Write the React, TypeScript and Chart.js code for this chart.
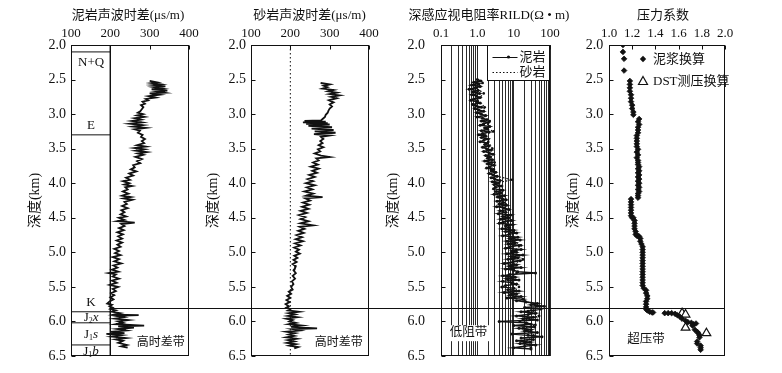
import React, { useEffect, useRef } from 'react';
import { Chart, registerables } from 'chart.js';

Chart.register(...registerables);

const FONT = "'Liberation Serif', 'Noto Sans CJK SC', serif";
const INK = '#111111';
const CANVAS_H = 373;
const PLOT_TOP = 45;
const PLOT_BOTTOM = 356;

// ---------- shared depth axis ----------
const depthTicks = [2.0, 2.5, 3.0, 3.5, 4.0, 4.5, 5.0, 5.5, 6.0, 6.5];
const depthMin = 2.0;
const depthMax = 6.5;
const depthTitle = '深度(km)';
const overpressureTop = 5.8;

// ---------- panel 1: mudstone sonic ----------
const p1Title = '泥岩声波时差(μs/m)';
const dtTicks = [100, 200, 300, 400];
const p1Depth = [
  2.52, 2.54, 2.55, 2.57, 2.58, 2.60, 2.61, 2.63, 2.64, 2.66, 2.67, 2.69, 2.70,
  2.72, 2.74, 2.76, 2.78, 2.80, 2.82, 2.85, 2.87, 2.90, 2.93, 2.96, 2.98,
  3.00, 3.02, 3.04, 3.06, 3.08, 3.10, 3.12, 3.14, 3.16, 3.18, 3.20, 3.22, 3.24,
  3.27, 3.30, 3.33, 3.36, 3.39, 3.42, 3.45, 3.47, 3.49, 3.51, 3.53, 3.55, 3.57, 3.59,
  3.62, 3.65, 3.68, 3.71, 3.74, 3.77, 3.80, 3.83, 3.86, 3.89, 3.92, 3.95, 3.97,
  4.00, 4.02, 4.04, 4.06, 4.09, 4.12, 4.15, 4.18, 4.20,
  4.22, 4.24, 4.27, 4.30, 4.33, 4.36, 4.39, 4.42, 4.45, 4.48,
  4.50, 4.53, 4.55, 4.57, 4.59, 4.62, 4.65, 4.68, 4.71, 4.74, 4.77,
  4.80, 4.83, 4.86, 4.89, 4.92, 4.95, 4.98, 5.01, 5.04,
  5.07, 5.10, 5.13, 5.16, 5.19, 5.22, 5.25, 5.28, 5.30,
  5.32, 5.35, 5.38, 5.41, 5.44, 5.47, 5.50, 5.53, 5.56, 5.59,
  5.62, 5.65, 5.68, 5.71, 5.74, 5.76, 5.78, 5.80, 5.82, 5.84, 5.86,
  5.88, 5.90, 5.91, 5.92, 5.94, 5.96, 5.98, 6.00, 6.02, 6.04, 6.06, 6.07,
  6.09, 6.11, 6.13, 6.15, 6.17, 6.18, 6.20, 6.22, 6.24, 6.26, 6.28, 6.31, 6.34, 6.36, 6.38,
];
const p1Dt = [
  300, 318, 305, 328, 310, 340, 312, 332, 305, 345, 318, 338, 300,
  325, 298, 315, 290, 296, 282, 288, 278, 284, 280, 276, 270,
  283, 268, 286, 262, 278, 255, 280, 250, 282, 258, 290, 262, 275,
  270, 282, 278, 288, 280, 286, 268, 290, 262, 286, 265, 292, 270, 284,
  264, 280, 268, 276, 258, 262, 252, 266, 248, 258, 240, 250, 232,
  248, 236, 255, 238, 244, 232, 246, 230, 252,
  234, 256, 236, 242, 230, 244, 228, 236, 226, 240,
  222, 236, 218, 262, 228, 236, 222, 234, 218, 232, 220,
  230, 216, 230, 218, 226, 210, 222, 212, 226,
  206, 222, 210, 228, 208, 218, 204, 220, 196,
  214, 206, 222, 204, 216, 198, 220, 206, 214, 202,
  210, 200, 208, 198, 192, 204, 198, 206, 200, 214, 204,
  225, 210, 272, 215, 234, 212, 246, 220, 232, 214, 286, 220,
  260, 218, 240, 200, 236, 190, 228, 205, 240, 214, 232, 220, 242, 228, 244,
];
const columnEdge = 200;
const columnLeft = 100;
const formationTops = [2.10, 3.30, 5.86, 6.02, 6.34];
const formationNames = ['N+Q', 'E', 'K', 'J2x', 'J1s', 'J1b'];
const formationLabelDepth = [2.26, 3.16, 5.72, 5.95, 6.19, 6.44];
const formationLabelX = 151;
const p1Note = '高时差带';
const p1NoteAt = [267, 6.31];

// ---------- panel 2: sandstone sonic ----------
const p2Title = '砂岩声波时差(μs/m)';
const p2Depth = [
  2.55, 2.57, 2.59, 2.61, 2.63, 2.65, 2.67, 2.69, 2.71, 2.73, 2.75, 2.77,
  2.80, 2.83, 2.86, 2.89, 2.92, 2.95, 2.98, 3.01, 3.04, 3.07,
  3.09, 3.10, 3.11, 3.12, 3.13, 3.14, 3.15, 3.17, 3.19, 3.21, 3.23, 3.25, 3.27, 3.29, 3.31,
  3.33, 3.36, 3.39, 3.42, 3.45, 3.48, 3.51, 3.54, 3.57, 3.60, 3.62, 3.64,
  3.67, 3.70, 3.73, 3.76, 3.79, 3.82, 3.85, 3.88, 3.91, 3.94, 3.97,
  4.00, 4.03, 4.06, 4.09, 4.12, 4.15, 4.18, 4.20, 4.22, 4.25,
  4.28, 4.31, 4.34, 4.37, 4.40, 4.43, 4.46, 4.49, 4.52, 4.55,
  4.58, 4.61, 4.63, 4.66, 4.69, 4.72, 4.75, 4.78, 4.81, 4.84,
  4.87, 4.90, 4.93, 4.96, 4.99, 5.02, 5.05, 5.08, 5.11, 5.14,
  5.17, 5.20, 5.23, 5.26, 5.30, 5.34, 5.38, 5.42, 5.46, 5.50,
  5.54, 5.57, 5.60, 5.63, 5.66, 5.69, 5.72, 5.75, 5.78, 5.80,
  5.82, 5.84, 5.86, 5.88, 5.90, 5.92, 5.94, 5.96, 5.98, 6.00,
  6.02, 6.04, 6.06, 6.08, 6.10, 6.11, 6.13, 6.15, 6.17, 6.19,
  6.21, 6.23, 6.25, 6.27, 6.29, 6.31, 6.33, 6.35, 6.37, 6.39,
];
const p2Dt = [
  277, 300, 285, 294, 282, 310, 296, 318, 300, 325, 304, 318,
  298, 310, 300, 306, 300, 297, 295, 290, 288, 282,
  278, 236, 290, 232, 295, 240, 300, 246, 306, 254, 310, 262, 315, 260, 300,
  278, 284, 276, 282, 272, 284, 270, 276, 262, 278, 300, 266,
  272, 258, 270, 252, 272, 256, 268, 248, 262, 244, 258,
  240, 262, 242, 256, 236, 258, 240, 282, 238, 250,
  232, 248, 230, 246, 226, 242, 222, 238, 226, 246,
  226, 258, 224, 236, 220, 234, 216, 230, 214, 232,
  212, 226, 210, 222, 214, 224, 210, 218, 208, 216,
  206, 214, 212, 208, 214, 206, 212, 204, 208, 202,
  206, 196, 202, 192, 200, 190, 198, 188, 196, 190,
  200, 194, 222, 196, 212, 194, 218, 190, 206, 198,
  214, 196, 230, 202, 268, 206, 224, 190, 212, 196,
  210, 190, 216, 194, 210, 192, 214, 198, 220, 210,
];
const p2RefDt = 200;
const p2Note = '高时差带';
const p2NoteAt = [262, 6.31];

// ---------- panel 3: deep induction resistivity ----------
const p3Title = '深感应视电阻率RILD(Ω • m)';
const rildTicks = [0.1, 1, 10, 100];
const rildTickLabels = ['0.1', '1.0', '10', '100'];
const rildGrid = [
  0.1, 0.2, 0.3, 0.4, 0.5, 0.6, 0.7, 0.8, 0.9,
  1, 2, 3, 4, 5, 6, 7, 8, 9,
  10, 20, 30, 40, 50, 60, 70, 80, 90, 100,
];
const p3MudLabel = '泥岩';
const p3SandLabel = '砂岩';
const p3MudDepth = [
  2.50, 2.52, 2.54, 2.56, 2.58, 2.60, 2.62, 2.64, 2.66, 2.68,
  2.70, 2.72, 2.74, 2.76, 2.78, 2.80, 2.82, 2.84, 2.86, 2.88,
  2.90, 2.92, 2.94, 2.96, 2.98, 3.00, 3.02, 3.04, 3.06, 3.08,
  3.10, 3.12, 3.14, 3.16, 3.18, 3.20, 3.22, 3.24, 3.26, 3.28,
  3.30, 3.32, 3.34, 3.36, 3.38, 3.40, 3.42, 3.44, 3.46, 3.48,
  3.50, 3.52, 3.54, 3.56, 3.58, 3.60, 3.62, 3.64, 3.66, 3.68,
  3.70, 3.72, 3.74, 3.76, 3.78, 3.80, 3.82, 3.84, 3.86, 3.88,
  3.90, 3.92, 3.94, 3.96, 3.98, 4.00, 4.02, 4.04, 4.06, 4.08,
  4.10, 4.12, 4.14, 4.16, 4.18, 4.20, 4.22, 4.24, 4.26, 4.28,
  4.30, 4.32, 4.34, 4.36, 4.38, 4.40, 4.42, 4.44, 4.46, 4.48,
  4.50, 4.52, 4.54, 4.56, 4.58, 4.60, 4.62, 4.64, 4.66, 4.68,
  4.70, 4.72, 4.74, 4.76, 4.78, 4.80, 4.82, 4.84, 4.86, 4.88,
  4.90, 4.92, 4.94, 4.96, 4.98, 5.00, 5.02, 5.04, 5.06, 5.08,
  5.10, 5.12, 5.14, 5.16, 5.18, 5.20, 5.22, 5.24, 5.26, 5.28,
  5.30, 5.32, 5.34, 5.36, 5.38, 5.40, 5.42, 5.44, 5.46, 5.48,
  5.50, 5.52, 5.54, 5.56, 5.58, 5.60, 5.62, 5.64, 5.66, 5.68,
  5.70, 5.72, 5.74, 5.76, 5.78, 5.80, 5.82, 5.84, 5.86, 5.88,
  5.90, 5.92, 5.94, 5.96, 5.98, 6.00, 6.02, 6.04, 6.06, 6.08,
  6.10, 6.12, 6.14, 6.16, 6.18, 6.20, 6.22, 6.24, 6.26, 6.28,
  6.30, 6.32, 6.34, 6.36, 6.38, 6.40,
];
const p3MudRild = [
  1.0, 1.25, 0.8, 1.1, 0.7, 1.2, 0.9, 0.6, 1.05, 0.75,
  1.15, 0.7, 0.95, 1.2, 0.8, 0.65, 1.0, 1.2, 0.75, 0.9,
  1.3, 0.85, 1.1, 1.5, 0.95, 1.25, 1.7, 1.0, 1.4, 1.8,
  1.3, 2.0, 1.5, 1.2, 2.2, 1.6, 1.9, 1.3, 2.1, 1.4,
  1.1, 1.7, 1.3, 2.0, 1.5, 1.2, 1.9, 1.6, 2.1, 1.4,
  1.8, 2.4, 1.5, 2.1, 2.7, 1.7, 2.3, 1.9, 2.6, 1.6,
  2.5, 1.9, 2.9, 2.2, 1.8, 2.8, 2.4, 3.2, 2.1, 2.7,
  3.5, 2.4, 3.0, 4.2, 2.6, 3.8, 2.9, 4.5, 3.2, 2.8,
  5.0, 3.3, 4.4, 2.9, 5.6, 3.6, 4.8, 6.2, 3.5, 5.2,
  4.0, 6.4, 3.4, 5.5, 7.4, 4.2, 6.0, 3.8, 8.2, 5.0,
  6.8, 4.4, 8.8, 5.2, 4.0, 9.5, 6.0, 7.5, 4.8, 10,
  6.0, 12, 7.5, 5.0, 13, 8.0, 15, 6.5, 11, 7.0,
  14, 8.0, 6.0, 16, 9.0, 12, 6.5, 18, 8.5, 13,
  7.0, 15, 9.5, 5.5, 12, 7.5, 16, 6.0, 10, 13,
  40, 8.0, 5.0, 11, 6.5, 14, 5.0, 9.0, 12, 6.0,
  4.8, 10, 7.0, 14, 5.5, 12, 8.0, 16, 6.5, 18,
  12, 22, 45, 30, 70, 20, 55, 35, 16, 40,
  25, 12, 35, 18, 45, 4, 22, 30, 10, 38,
  14, 30, 20, 45, 9, 25, 60, 16, 35, 12,
  28, 15, 40, 20, 10, 30,
];
const p3SandDepth = [
  2.55, 2.62, 2.70, 2.80, 2.90, 3.00, 3.10, 3.20, 3.25, 3.30, 3.40,
  3.50, 3.60, 3.70, 3.80, 3.90, 3.95, 4.00, 4.10, 4.20, 4.30,
  4.40, 4.50, 4.60, 4.70, 4.80, 4.90, 5.00, 5.10, 5.20, 5.30,
  5.40, 5.50, 5.60, 5.70, 5.78, 5.85, 5.92, 6.00, 6.05, 6.10,
  6.20, 6.30, 6.38,
];
const p3SandRild = [
  1.4, 0.9, 1.5, 1.0, 1.6, 1.3, 2.2, 1.7, 2.8, 1.5, 2.0,
  2.6, 2.0, 3.0, 2.4, 3.5, 9.0, 3.2, 4.5, 3.8, 6.0,
  5.0, 7.5, 6.5, 10, 8, 16, 9, 18, 8, 12,
  7, 14, 9, 20, 45, 25, 50, 15, 40, 18,
  35, 20, 30,
];
const p3Note = '低阻带';
const p3NoteAt = [0.57, 6.17];

// ---------- panel 4: pressure coefficient ----------
const p4Title = '压力系数';
const pcTicks = [1.0, 1.2, 1.4, 1.6, 1.8, 2.0];
const p4MudLabel = '泥浆换算';
const p4DstLabel = 'DST测压换算';
const p4MudDepth = [
  2.00, 2.10, 2.20, 2.37,
  2.52, 2.57, 2.62, 2.67, 2.72, 2.77, 2.82, 2.87, 2.92, 2.97, 3.01,
  3.07, 3.11, 3.15, 3.19, 3.23, 3.27, 3.31, 3.35, 3.39, 3.43, 3.47, 3.51, 3.55, 3.59,
  3.63, 3.67, 3.70, 3.73, 3.76, 3.79, 3.82, 3.85, 3.88, 3.91, 3.94, 3.97, 4.00,
  4.03, 4.06, 4.09, 4.12, 4.15, 4.18, 4.21,
  4.23, 4.27, 4.31, 4.35, 4.39, 4.43, 4.47, 4.50,
  4.50, 4.54, 4.58, 4.62, 4.66, 4.70, 4.74,
  4.76, 4.76, 4.77, 4.80, 4.84, 4.88,
  4.92, 4.96, 5.00, 5.04, 5.08, 5.12, 5.16, 5.20, 5.24, 5.28, 5.32, 5.36, 5.40, 5.44, 5.48, 5.52,
  5.55, 5.59, 5.63, 5.67, 5.71, 5.75, 5.79, 5.82,
  5.84, 5.86, 5.87, 5.87,
  5.88, 5.88, 5.88, 5.89, 5.91, 5.93, 5.96,
  5.99, 6.01, 6.02, 6.04, 6.03, 6.06,
  6.12, 6.15, 6.17, 6.20, 6.23,
  6.29, 6.32, 6.35, 6.38, 6.41,
];
const p4MudPc = [
  1.12, 1.12, 1.13, 1.13,
  1.18, 1.18, 1.18, 1.18, 1.19, 1.19, 1.19, 1.20, 1.20, 1.21, 1.21,
  1.26, 1.25, 1.26, 1.25, 1.25, 1.25, 1.24, 1.24, 1.24, 1.24, 1.24, 1.25, 1.24, 1.25,
  1.24, 1.25, 1.25, 1.25, 1.26, 1.25, 1.26, 1.25, 1.26, 1.25, 1.26, 1.25, 1.26,
  1.25, 1.26, 1.25, 1.26, 1.25, 1.25, 1.25,
  1.19, 1.19, 1.19, 1.19, 1.19, 1.19, 1.19, 1.20,
  1.21, 1.22, 1.22, 1.22, 1.22, 1.23, 1.23,
  1.24, 1.25, 1.26, 1.27, 1.27, 1.28,
  1.29, 1.29, 1.29, 1.29, 1.29, 1.29, 1.29, 1.29, 1.29, 1.29, 1.29, 1.29, 1.29, 1.29, 1.29, 1.30,
  1.32, 1.32, 1.33, 1.33, 1.32, 1.32, 1.32, 1.32,
  1.33, 1.35, 1.37, 1.38,
  1.48, 1.51, 1.54, 1.57, 1.59, 1.61, 1.63,
  1.66, 1.68, 1.71, 1.73, 1.75, 1.72,
  1.74, 1.76, 1.77, 1.78, 1.78,
  1.76, 1.76, 1.79, 1.79, 1.79,
];
const p4DstDepth = [5.88, 5.90, 6.09, 6.17];
const p4DstPc = [1.63, 1.66, 1.66, 1.84];
const p4Note = '超压带';
const p4NoteAt = [1.32, 6.27];

// ---------- helpers ----------
const pts = (xs: number[], ys: number[]) => xs.map((x, i) => ({ x, y: ys[i] }));

const lineBase = {
  borderColor: INK,
  backgroundColor: INK,
  borderWidth: 1.2,
  pointRadius: 0,
  fill: false,
  tension: 0,
  showLine: true,
};

function drawFormationLabel(ctx: CanvasRenderingContext2D, name: string, cx: number, cy: number) {
  const m = /^J(\d)([a-z])$/.exec(name);
  ctx.textBaseline = 'middle';
  if (!m) {
    ctx.font = `13px ${FONT}`;
    ctx.textAlign = 'center';
    ctx.fillText(name, cx, cy);
    return;
  }
  const fMain = `13px ${FONT}`;
  const fSub = `8px ${FONT}`;
  const fIt = `italic 13px ${FONT}`;
  ctx.font = fMain;
  const wJ = ctx.measureText('J').width;
  ctx.font = fSub;
  const wS = ctx.measureText(m[1]).width;
  ctx.font = fIt;
  const wI = ctx.measureText(m[2]).width;
  let x = cx - (wJ + wS + wI) / 2;
  ctx.textAlign = 'left';
  ctx.font = fMain;
  ctx.fillText('J', x, cy);
  x += wJ;
  ctx.font = fSub;
  ctx.fillText(m[1], x, cy + 3);
  x += wS;
  ctx.font = fIt;
  ctx.fillText(m[2], x, cy);
}

type PanelDef = {
  key: string;
  left: number;
  width: number;
  yAxisWidth: number;
  rightPad: number;
  yTitlePad: number;
  yTickPad: number;
  title: string;
  titleShift: number;
  xScale: any;
  xTickVals: number[];
  datasets: any[];
  lineStart: (c: any) => number;
  lineEnd: (c: any) => number;
  extra?: (c: any, ctx: CanvasRenderingContext2D) => void;
};

function noteText(ctx: CanvasRenderingContext2D, chart: any, text: string, at: number[], size: number, align: CanvasTextAlign) {
  ctx.font = `${size}px ${FONT}`;
  ctx.textAlign = align;
  ctx.textBaseline = 'middle';
  ctx.fillStyle = INK;
  ctx.fillText(text, chart.scales.x.getPixelForValue(at[0]), chart.scales.y.getPixelForValue(at[1]));
}

const linearTop = (min: number, max: number, vals: number[], fmt: (v: number) => string) => ({
  type: 'linear',
  min,
  max,
  afterBuildTicks: (s: any) => {
    s.ticks = vals.map((v) => ({ value: v }));
  },
  ticks: {
    callback: (v: any) => fmt(Number(v)),
  },
  grid: { display: false, drawTicks: false },
});

const panels: PanelDef[] = [
  {
    key: 'p1',
    left: 0,
    width: 200,
    yAxisWidth: 71,
    rightPad: 11,
    yTitlePad: 26.6,
    yTickPad: 5,
    title: p1Title,
    titleShift: -2,
    xScale: linearTop(100, 400, dtTicks, (v) => String(v)),
    xTickVals: dtTicks,
    datasets: [
      { ...lineBase, borderWidth: 1.8, borderJoinStyle: 'miter', data: pts(p1Dt, p1Depth) },
      { ...lineBase, borderWidth: 1, data: pts([columnEdge, columnEdge], [depthMin, depthMax]) },
      ...formationTops.map((d) => ({ ...lineBase, borderWidth: 1, data: pts([columnLeft, columnEdge], [d, d]) })),
    ],
    lineStart: (c) => c.scales.x.getPixelForValue(columnEdge),
    lineEnd: (c) => c.width,
    extra: (c, ctx) => {
      ctx.fillStyle = INK;
      formationNames.forEach((n, i) => {
        drawFormationLabel(ctx, n, c.scales.x.getPixelForValue(formationLabelX), c.scales.y.getPixelForValue(formationLabelDepth[i]));
      });
      noteText(ctx, c, p1Note, p1NoteAt, 12, 'left');
    },
  },
  {
    key: 'p2',
    left: 200,
    width: 180,
    yAxisWidth: 51,
    rightPad: 11,
    yTitlePad: 4.9,
    yTickPad: 5,
    title: p2Title,
    titleShift: -0.5,
    xScale: linearTop(100, 400, dtTicks, (v) => String(v)),
    xTickVals: dtTicks,
    datasets: [
      { ...lineBase, borderWidth: 1.8, borderJoinStyle: 'miter', data: pts(p2Dt, p2Depth) },
      { ...lineBase, borderWidth: 1, borderDash: [1.5, 2.5], data: pts([p2RefDt, p2RefDt], [depthMin, depthMax]) },
    ],
    lineStart: () => 0,
    lineEnd: (c) => c.width,
    extra: (c, ctx) => {
      noteText(ctx, c, p2Note, p2NoteAt, 12, 'left');
    },
  },
  {
    key: 'p3',
    left: 380,
    width: 220,
    yAxisWidth: 61,
    rightPad: 50,
    yTitlePad: 4.9,
    yTickPad: 16,
    title: p3Title,
    titleShift: -6.5,
    xScale: {
      type: 'logarithmic',
      min: 0.1,
      max: 100,
      afterBuildTicks: (s: any) => {
        s.ticks = rildGrid.map((v) => ({ value: v }));
      },
      ticks: {
        callback: (v: any) => {
          const i = rildTicks.indexOf(Number(v));
          return i >= 0 ? rildTickLabels[i] : '';
        },
      },
      grid: { display: true, drawTicks: false, color: '#2b2b2b', lineWidth: 1 },
    },
    xTickVals: rildTicks,
    datasets: [
      {
        ...lineBase,
        label: p3MudLabel,
        borderWidth: 1.5,
        pointRadius: 1.5,
        pointBorderWidth: 0,
        pointBackgroundColor: INK,
        data: pts(p3MudRild, p3MudDepth),
      },
      {
        ...lineBase,
        label: p3SandLabel,
        borderWidth: 1.2,
        borderDash: [1.5, 2],
        pointRadius: 1.3,
        pointBorderWidth: 0,
        pointBackgroundColor: INK,
        data: pts(p3SandRild, p3SandDepth),
      },
    ],
    lineStart: () => 0,
    lineEnd: (c) => c.chartArea.right + 10,
    extra: (c, ctx) => {
      const a = c.chartArea;
      ctx.font = `12.5px ${FONT}`;
      const w = ctx.measureText(p3Note).width;
      const nx = c.scales.x.getPixelForValue(p3NoteAt[0]);
      const ny = c.scales.y.getPixelForValue(p3NoteAt[1]);
      ctx.fillStyle = '#ffffff';
      ctx.fillRect(nx - w / 2 - 4, ny - 8, w + 8, 16);
      noteText(ctx, c, p3Note, p3NoteAt, 12.5, 'center');
      const bw = 62;
      const bh = 35;
      const bx = Math.round(a.right) - bw - 0.5;
      const by = Math.round(a.top) + 0.5;
      ctx.fillStyle = '#ffffff';
      ctx.fillRect(bx, by, bw, bh);
      ctx.strokeStyle = INK;
      ctx.lineWidth = 1;
      ctx.strokeRect(bx, by, bw, bh);
      const ds = c.data.datasets;
      const rows = [by + 11, by + 26];
      rows.forEach((ry, i) => {
        ctx.save();
        ctx.strokeStyle = INK;
        ctx.lineWidth = 1;
        if (i === 1) ctx.setLineDash([1.5, 2]);
        ctx.beginPath();
        ctx.moveTo(bx + 5, Math.round(ry) + 0.5);
        ctx.lineTo(bx + 30, Math.round(ry) + 0.5);
        ctx.stroke();
        ctx.restore();
        if (i === 0) {
          ctx.fillStyle = INK;
          ctx.beginPath();
          ctx.arc(bx + 21, ry + 0.5, 1.6, 0, Math.PI * 2);
          ctx.fill();
        }
        ctx.fillStyle = INK;
        ctx.font = `13px ${FONT}`;
        ctx.textAlign = 'left';
        ctx.textBaseline = 'middle';
        ctx.fillText(ds[i].label, bx + 32, ry + 1);
      });
    },
  },
  {
    key: 'p4',
    left: 560,
    width: 222,
    yAxisWidth: 49,
    rightPad: 57,
    yTitlePad: 4.6,
    yTickPad: 5.7,
    title: p4Title,
    titleShift: -4,
    xScale: linearTop(1.0, 2.0, pcTicks, (v) => v.toFixed(1)),
    xTickVals: pcTicks,
    datasets: [
      {
        ...lineBase,
        label: p4MudLabel,
        showLine: false,
        pointStyle: 'rectRot',
        pointRadius: 2.8,
        pointBorderWidth: 0.8,
        pointBorderColor: INK,
        pointBackgroundColor: INK,
        data: pts(p4MudPc, p4MudDepth),
      },
      {
        ...lineBase,
        label: p4DstLabel,
        showLine: false,
        pointStyle: 'triangle',
        pointRadius: 5,
        pointBorderWidth: 1.2,
        pointBorderColor: INK,
        pointBackgroundColor: '#ffffff',
        data: pts(p4DstPc, p4DstDepth),
      },
    ],
    lineStart: () => 0,
    lineEnd: (c) => c.chartArea.right,
    extra: (c, ctx) => {
      const a = c.chartArea;
      const ds = c.data.datasets;
      const mx = a.left + 34;
      const y1 = a.top + 14;
      const y2 = a.top + 36;
      ctx.fillStyle = INK;
      ctx.beginPath();
      ctx.moveTo(mx, y1 - 3.2);
      ctx.lineTo(mx + 3.2, y1);
      ctx.lineTo(mx, y1 + 3.2);
      ctx.lineTo(mx - 3.2, y1);
      ctx.closePath();
      ctx.fill();
      ctx.strokeStyle = INK;
      ctx.lineWidth = 1.2;
      ctx.beginPath();
      ctx.moveTo(mx, y2 - 4.5);
      ctx.lineTo(mx + 4.5, y2 + 3.5);
      ctx.lineTo(mx - 4.5, y2 + 3.5);
      ctx.closePath();
      ctx.stroke();
      ctx.font = `13px ${FONT}`;
      ctx.textAlign = 'left';
      ctx.textBaseline = 'middle';
      ctx.fillText(ds[0].label, a.left + 44, y1 + 1);
      ctx.fillText(ds[1].label, a.left + 44, y2 + 1);
      noteText(ctx, c, p4Note, p4NoteAt, 12.5, 'center');
    },
  },
];

function buildChart(canvas: HTMLCanvasElement, p: PanelDef) {
  const decor = {
    id: 'decor_' + p.key,
    afterDatasetsDraw(chart: any) {
      const { ctx, chartArea: a } = chart;
      const xs = chart.scales.x;
      const ys = chart.scales.y;
      ctx.save();
      ctx.strokeStyle = INK;
      ctx.lineWidth = 1;
      const L = Math.round(a.left) + 0.5;
      const R = Math.round(a.right) - 0.5;
      const T = Math.round(a.top) + 0.5;
      const B = Math.round(a.bottom) - 0.5;
      ctx.strokeRect(L, T, R - L, B - T);
      ctx.beginPath();
      for (const v of p.xTickVals) {
        const px = Math.round(xs.getPixelForValue(v)) + 0.5;
        ctx.moveTo(px, T);
        ctx.lineTo(px, T + 4);
      }
      for (const d of depthTicks) {
        const py = Math.round(ys.getPixelForValue(d)) + 0.5;
        ctx.moveTo(L, py);
        ctx.lineTo(L + 4, py);
      }
      ctx.stroke();
      const yy = Math.round(ys.getPixelForValue(overpressureTop)) + 0.5;
      ctx.beginPath();
      ctx.moveTo(p.lineStart(chart), yy);
      ctx.lineTo(p.lineEnd(chart), yy);
      ctx.stroke();
      ctx.fillStyle = INK;
      ctx.font = `13px ${FONT}`;
      ctx.textAlign = 'center';
      ctx.textBaseline = 'middle';
      ctx.fillText(p.title, (a.left + a.right) / 2 + p.titleShift, 16);
      if (p.extra) p.extra(chart, ctx);
      ctx.restore();
    },
  };

  const xScale = {
    ...p.xScale,
    position: 'top',
    border: { display: false },
    ticks: {
      ...(p.xScale.ticks || {}),
      font: { family: FONT, size: 13 },
      color: INK,
      padding: 4,
      maxRotation: 0,
      minRotation: 0,
      autoSkip: false,
    },
    title: { display: false },
    afterFit: (s: any) => {
      s.height = PLOT_TOP;
      s.paddingLeft = 0;
      s.paddingRight = 0;
    },
  };

  return new Chart(canvas, {
    type: 'line',
    data: { datasets: p.datasets },
    options: {
      responsive: false,
      maintainAspectRatio: false,
      animation: false,
      devicePixelRatio: 1,
      events: [],
      layout: { padding: { left: 0, top: 0, right: p.rightPad, bottom: CANVAS_H - PLOT_BOTTOM } },
      plugins: { legend: { display: false }, tooltip: { enabled: false }, title: { display: false } },
      scales: {
        x: xScale as any,
        y: {
          type: 'linear',
          reverse: true,
          min: depthMin,
          max: depthMax,
          afterBuildTicks: (s: any) => {
            s.ticks = depthTicks.map((v) => ({ value: v }));
          },
          ticks: {
            callback: (v: any) => Number(v).toFixed(1),
            font: { family: FONT, size: 14 },
            color: INK,
            padding: p.yTickPad,
            autoSkip: false,
          },
          grid: { display: false, drawTicks: false },
          border: { display: false },
          title: {
            display: true,
            text: depthTitle,
            font: { family: FONT, size: 14 },
            color: INK,
            padding: { top: p.yTitlePad, bottom: 0 },
          },
          afterFit: (s: any) => {
            s.width = p.yAxisWidth;
            s.paddingTop = 0;
            s.paddingBottom = 0;
          },
        } as any,
      },
    },
    plugins: [decor],
  } as any);
}

function Panel({ p }: { p: PanelDef }) {
  const ref = useRef<HTMLCanvasElement | null>(null);
  useEffect(() => {
    if (!ref.current) return;
    const chart = buildChart(ref.current, p);
    return () => chart.destroy();
  }, [p]);
  return (
    <canvas
      ref={ref}
      width={p.width}
      height={CANVAS_H}
      style={{ position: 'absolute', left: p.left, top: 0, width: p.width, height: CANVAS_H, display: 'block' }}
    />
  );
}

export default function App() {
  return (
    <div style={{ position: 'absolute', left: 0, top: 0, width: 782, height: CANVAS_H, background: '#ffffff', overflow: 'hidden' }}>
      {panels.map((p) => (
        <Panel key={p.key} p={p} />
      ))}
    </div>
  );
}
